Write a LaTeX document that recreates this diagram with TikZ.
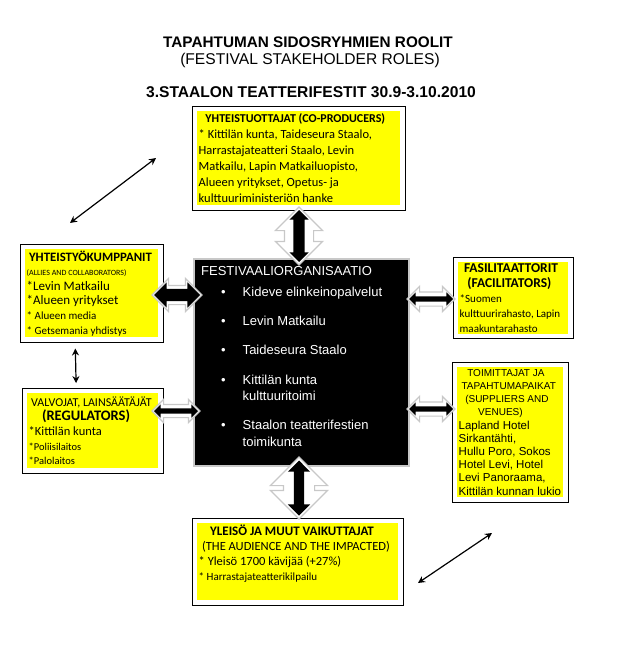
\documentclass[tikz,border=0pt]{standalone}
\usepackage{fontspec}
\setmainfont{Liberation Sans}
\newfontfamily\calfont{Carlito}
\usetikzlibrary{positioning, arrows.meta, shapes.arrows, fit}
\definecolor{boxyellow}{RGB}{255, 255, 0}
\definecolor{shadegray}{RGB}{200, 200, 200}
\newcommand{\ctr}{\hspace*{0pt plus 1fil}}
\newcommand{\fsz}[2]{\fontsize{#1}{#2}\selectfont}
\newcommand{\orgitem}{\hspace*{20pt}\textbullet\hspace*{17pt}}
\newcommand{\orgmore}{\hspace*{41.5pt}}

\begin{document}
\begin{tikzpicture}[
        x=1pt, y=-1pt,
        stake/.style={
            fill=boxyellow, anchor=north west, align=flush left,
            inner sep=1.5pt
        },
        frame/.style={draw, line width=0.8pt, inner sep=4.5pt},
        shadearrow/.style={
            double arrow, fill=white, draw=shadegray, line width=1.2pt,
            inner xsep=0pt, minimum width=0pt, double arrow head indent=0pt
        },
        corearrow/.style={
            double arrow, fill=black,
            inner xsep=0pt, minimum width=0pt, double arrow head indent=0pt
        },
        thinarrow/.style={
            {Stealth[length=7pt, width=7pt]}-{Stealth[length=7pt, width=7pt]},
            line width=1.2pt
        }
    ]
    \useasboundingbox (0,0) rectangle (626,671);

    % titles
    \node[font=\fsz{15.3}{18}\bfseries] (title) at (308,42)
        {TAPAHTUMAN SIDOSRYHMIEN ROOLIT};
    \node[font=\fsz{15.6}{18}] (subtitle) at (310,60)
        {(FESTIVAL STAKEHOLDER ROLES)};
    \node[font=\fsz{15.6}{18}\bfseries] (event) at (311,92)
        {3.STAALON TEATTERIFESTIT 30.9-3.10.2010};

    % festival organisation
    \node[fill=black, draw=shadegray, line width=2pt, anchor=north west,
          minimum width=215pt, minimum height=207pt] (org) at (193,258) {};
    \node[text=white, font=\fsz{13}{16}, align=flush left, anchor=north west,
          inner sep=0pt] (orgtext) at (201,266)
        {FESTIVAALIORGANISAATIO\\[5pt]
         \orgitem Kideve elinkeinopalvelut\\[13pt]
         \orgitem Levin Matkailu\\[13pt]
         \orgitem Taideseura Staalo\\[14pt]
         \orgitem Kittilän kunta\\
         \orgmore kulttuuritoimi\\[13pt]
         \orgitem Staalon teatterifestien\\[1pt]
         \orgmore toimikunta};

    % stakeholder groups
    \node[stake, text width=200pt, minimum height=94pt,
          font=\calfont\fsz{12.5}{16}] (coprod) at (197,111)
        {\ctr{\fsz{12}{16}\bfseries YHTEISTUOTTAJAT (CO-PRODUCERS)}\\
         {*} Kittilän kunta, Taideseura Staalo,\\
         Harrastajateatteri Staalo, Levin\\
         Matkailu, Lapin Matkailuopisto,\\
         Alueen yritykset, Opetus- ja\\
         kulttuuriministeriön hanke};

    \node[stake, text width=130pt, minimum height=88pt,
          font=\calfont\fsz{13}{14.6}] (allies) at (25,249)
        {\ctr{\fsz{12.8}{14.6}\bfseries YHTEISTYÖKUMPPANIT}\\
         {\fsz{8}{14.6}(ALLIES AND COLLABORATORS)}\\
         {*}Levin Matkailu\\
         {*}Alueen yritykset\\
         {\fsz{11}{14.6}* Alueen media}\\
         {\fsz{11}{14.6}* Getsemania yhdistys}};

    \node[stake, text width=128pt, minimum height=75pt,
          font=\calfont\fsz{12.5}{14.7}] (regul) at (27,393)
        {\ctr{\fsz{12}{14.7}VALVOJAT, LAINSÄÄTÄJÄT}\\
         \ctr{\fsz{14.5}{14.7}\bfseries (REGULATORS)}\\
         {*}Kittilän kunta\\
         {\fsz{10.5}{14.7}*Poliisilaitos}\\
         {\fsz{10.5}{14.7}*Palolaitos}};

    \node[stake, text width=107pt, minimum height=69pt,
          font=\calfont\fsz{11}{15}] (facil) at (458,262)
        {\ctr{\fsz{13.5}{15}\bfseries FASILITAATTORIT}\\
         \ctr{\fsz{13.5}{15}\bfseries (FACILITATORS)}\\
         {*}Suomen\\
         kulttuurirahasto, Lapin\\
         maakuntarahasto};

    \node[stake, text width=103pt, minimum height=130pt,
          font=\fsz{11.5}{13.2}] (suppl) at (457,367)
        {\ctr{\fsz{10}{13.2}TOIMITTAJAT JA}\\
         \ctr{\fsz{10}{13.2}TAPAHTUMAPAIKAT}\\
         \ctr{\fsz{10}{13.2}(SUPPLIERS AND}\\
         \ctr{\fsz{10}{13.2}VENUES)}\\
         Lapland Hotel\\
         Sirkantähti,\\
         Hullu Poro, Sokos\\
         Hotel Levi, Hotel\\
         Levi Panoraama,\\
         Kittilän kunnan lukio};

    \node[stake, text width=198pt,
          font=\calfont\fsz{12.5}{15}] (audience) at (197,523)
        {\strut\ctr{\fsz{13}{15}\bfseries YLEISÖ JA MUUT VAIKUTTAJAT}\\
         \ctr (THE AUDIENCE AND THE IMPACTED)\\
         {*} Yleisö 1700 kävijää (+27\%)\\
         {\fsz{11}{15}* Harrastajateatterikilpailu}\\[-1pt]
         \strut};

    % frames round the groups
    \node[frame, fit=(coprod)] (coprodframe) {};
    \node[frame, fit=(allies)] (alliesframe) {};
    \node[frame, fit=(regul)] (regulframe) {};
    \node[frame, fit=(facil)] (facilframe) {};
    \node[frame, fit=(suppl)] (supplframe) {};
    \node[frame, fit=(audience)] (audienceframe) {};

    % block arrows to the organisation
    \node[shadearrow, rotate=90, minimum height=58pt, inner ysep=14pt,
          double arrow head extend=9pt] (arrowtop) at (299,236) {};
    \node[corearrow, rotate=90, minimum height=52pt, inner ysep=5.5pt,
          double arrow head extend=4pt] (arrowtopcore) at (299,236) {};

    \node[shadearrow, rotate=90, minimum height=62pt, inner ysep=15pt,
          double arrow head extend=13pt] (arrowbottom) at (299,488) {};
    \node[corearrow, rotate=90, minimum height=55pt, inner ysep=5pt,
          double arrow head extend=6pt] (arrowbottomcore) at (299,488) {};

    \node[shadearrow, minimum height=50pt, inner ysep=9pt,
          double arrow head extend=7pt] (arrowallies) at (177,295) {};
    \node[corearrow, minimum height=46pt, inner ysep=6pt,
          double arrow head extend=6.5pt] (arrowalliescore) at (177,295) {};

    \node[shadearrow, minimum height=48pt, inner ysep=6pt,
          double arrow head extend=5pt] (arrowregul) at (176,411) {};
    \node[corearrow, minimum height=44pt, inner ysep=2.5pt,
          double arrow head extend=4pt] (arrowregulcore) at (176,411) {};

    \node[shadearrow, minimum height=48pt, inner ysep=6.5pt,
          double arrow head extend=5.5pt] (arrowfacil) at (431,299) {};
    \node[corearrow, minimum height=44pt, inner ysep=2.5pt,
          double arrow head extend=4pt] (arrowfacilcore) at (431,299) {};

    \node[shadearrow, minimum height=48pt, inner ysep=6.5pt,
          double arrow head extend=5.5pt] (arrowsuppl) at (431,409) {};
    \node[corearrow, minimum height=44pt, inner ysep=2.5pt,
          double arrow head extend=4pt] (arrowsupplcore) at (431,409) {};

    % thin arrows
    \coordinate (diagA) at (70,223);
    \coordinate (diagB) at (156,158);
    \coordinate (diagC) at (418,583);
    \coordinate (diagD) at (492,533);
    \draw[thinarrow] (diagA) -- (diagB);
    \draw[thinarrow] (diagC) -- (diagD);
    \draw[thinarrow, shorten <=6pt, shorten >=5pt]
        ([xshift=-16.5pt]alliesframe.south) -- ([xshift=-16.5pt]regulframe.north);

\end{tikzpicture}
\end{document}
